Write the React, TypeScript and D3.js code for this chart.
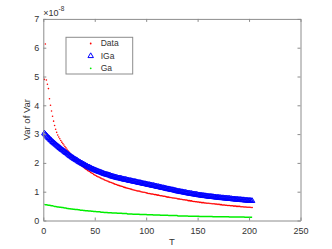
import React, { useEffect, useRef } from 'react'
import * as d3 from 'd3'

// Var of Var values (x 1e-8), one value per time step T = 1, 2, 3, ...
const dataVals = [
  4.90, 6.13, 4.88, 4.73, 4.58,
  4.23, 4.00, 3.80, 3.62, 3.45, 3.30, 3.17, 3.06, 2.97, 2.90, 2.84, 2.78, 2.72, 2.67, 2.62,
  2.57, 2.52, 2.47, 2.42, 2.38, 2.33, 2.28, 2.23, 2.18, 2.14,
  2.10, 2.07, 2.03, 2.00, 1.97, 1.94, 1.91, 1.88, 1.85, 1.82,
  1.79, 1.77, 1.74, 1.72, 1.70, 1.67, 1.65, 1.63, 1.60, 1.58,
  1.56, 1.54, 1.52, 1.51, 1.49, 1.47, 1.45, 1.44, 1.42, 1.40,
  1.39, 1.37, 1.36, 1.34, 1.33, 1.32, 1.30, 1.29, 1.27, 1.26,
  1.25, 1.23, 1.22, 1.21, 1.20, 1.19, 1.18, 1.16, 1.15, 1.14,
  1.13, 1.12, 1.11, 1.10, 1.09, 1.08, 1.07, 1.06, 1.05, 1.04,
  1.03, 1.02, 1.02, 1.01, 1.00, 0.99, 0.98, 0.98, 0.97, 0.96,
  0.95, 0.94, 0.94, 0.93, 0.92, 0.92, 0.91, 0.90, 0.90, 0.89,
  0.88, 0.88, 0.87, 0.86, 0.86, 0.85, 0.84, 0.84, 0.83, 0.82,
  0.81, 0.81, 0.80, 0.80, 0.79, 0.78, 0.78, 0.77, 0.77, 0.76,
  0.75, 0.75, 0.74, 0.74, 0.73, 0.72, 0.72, 0.71, 0.71, 0.70,
  0.69, 0.69, 0.68, 0.68, 0.67, 0.66, 0.66, 0.65, 0.65, 0.64,
  0.64, 0.63, 0.63, 0.62, 0.62, 0.62, 0.61, 0.61, 0.60, 0.60,
  0.60, 0.59, 0.59, 0.58, 0.58, 0.58, 0.57, 0.57, 0.56, 0.56,
  0.56, 0.55, 0.55, 0.54, 0.54, 0.54, 0.53, 0.53, 0.52, 0.52,
  0.52, 0.51, 0.51, 0.51, 0.50, 0.50, 0.50, 0.49, 0.49, 0.49,
  0.49, 0.48, 0.48, 0.48, 0.47, 0.47, 0.47, 0.46, 0.46, 0.46, 0.46, 0.45, 0.45
]

const igaVals = [
  3.03, 2.99, 2.95, 2.91, 2.87, 2.84, 2.80, 2.77, 2.73, 2.70,
  2.67, 2.64, 2.61, 2.58, 2.55, 2.52, 2.49, 2.46, 2.44, 2.41,
  2.38, 2.35, 2.33, 2.30, 2.27, 2.24, 2.22, 2.19, 2.17, 2.14,
  2.12, 2.10, 2.08, 2.05, 2.03, 2.01, 1.99, 1.97, 1.95, 1.93,
  1.91, 1.89, 1.87, 1.85, 1.84, 1.82, 1.80, 1.78, 1.77, 1.75,
  1.74, 1.72, 1.71, 1.69, 1.68, 1.67, 1.65, 1.64, 1.62, 1.61,
  1.60, 1.59, 1.58, 1.57, 1.56, 1.54, 1.53, 1.52, 1.51, 1.50,
  1.49, 1.48, 1.47, 1.47, 1.46, 1.45, 1.44, 1.43, 1.42, 1.42,
  1.41, 1.40, 1.39, 1.38, 1.38, 1.37, 1.36, 1.35, 1.35, 1.34,
  1.33, 1.32, 1.31, 1.31, 1.30, 1.29, 1.28, 1.27, 1.27, 1.26,
  1.25, 1.24, 1.24, 1.23, 1.22, 1.21, 1.21, 1.20, 1.19, 1.18,
  1.17, 1.17, 1.16, 1.15, 1.14, 1.13, 1.13, 1.12, 1.11, 1.10,
  1.09, 1.09, 1.08, 1.07, 1.06, 1.06, 1.05, 1.04, 1.03, 1.02,
  1.01, 1.01, 1.00, 0.99, 0.99, 0.98, 0.97, 0.97, 0.96, 0.95,
  0.94, 0.94, 0.93, 0.93, 0.92, 0.91, 0.91, 0.90, 0.90, 0.89,
  0.88, 0.88, 0.87, 0.87, 0.86, 0.86, 0.85, 0.85, 0.84, 0.84,
  0.83, 0.83, 0.83, 0.82, 0.82, 0.81, 0.81, 0.80, 0.80, 0.80,
  0.79, 0.79, 0.78, 0.78, 0.78, 0.77, 0.77, 0.77, 0.76, 0.76,
  0.76, 0.75, 0.75, 0.74, 0.74, 0.74, 0.73, 0.73, 0.73, 0.72,
  0.72, 0.72, 0.71, 0.71, 0.71, 0.70, 0.70, 0.70, 0.69, 0.69, 0.69, 0.68, 0.68
]

const gaVals = [
  0.56, 0.55, 0.55, 0.54, 0.53, 0.53, 0.52, 0.51, 0.51, 0.50,
  0.49, 0.49, 0.48, 0.47, 0.47, 0.46, 0.46, 0.45, 0.45, 0.44,
  0.43, 0.43, 0.42, 0.42, 0.41, 0.41, 0.40, 0.40, 0.39, 0.39,
  0.38, 0.38, 0.38, 0.37, 0.37, 0.36, 0.36, 0.36, 0.35, 0.35,
  0.34, 0.34, 0.34, 0.33, 0.33, 0.33, 0.32, 0.32, 0.31, 0.31,
  0.31, 0.30, 0.30, 0.30, 0.30, 0.29, 0.29, 0.29, 0.28, 0.28,
  0.28, 0.28, 0.27, 0.27, 0.27, 0.27, 0.26, 0.26, 0.26, 0.26,
  0.26, 0.25, 0.25, 0.25, 0.25, 0.25, 0.24, 0.24, 0.24, 0.24,
  0.24, 0.23, 0.23, 0.23, 0.23, 0.23, 0.22, 0.22, 0.22, 0.22,
  0.22, 0.22, 0.22, 0.21, 0.21, 0.21, 0.21, 0.21, 0.21, 0.21,
  0.20, 0.20, 0.20, 0.20, 0.20, 0.20, 0.19, 0.19, 0.19, 0.19,
  0.19, 0.19, 0.19, 0.18, 0.18, 0.18, 0.18, 0.18, 0.18, 0.18,
  0.18, 0.17, 0.17, 0.17, 0.17, 0.17, 0.17, 0.17, 0.17, 0.17,
  0.16, 0.16, 0.16, 0.16, 0.16, 0.16, 0.16, 0.16, 0.16, 0.16,
  0.15, 0.15, 0.15, 0.15, 0.15, 0.15, 0.15, 0.15, 0.15, 0.15,
  0.15, 0.14, 0.14, 0.14, 0.14, 0.14, 0.14, 0.14, 0.14, 0.14,
  0.14, 0.14, 0.14, 0.14, 0.13, 0.13, 0.13, 0.13, 0.13, 0.13,
  0.13, 0.13, 0.13, 0.13, 0.13, 0.13, 0.13, 0.13, 0.13, 0.13,
  0.12, 0.12, 0.12, 0.12, 0.12, 0.12, 0.12, 0.12, 0.12, 0.12,
  0.12, 0.12, 0.12, 0.12, 0.12, 0.11, 0.11, 0.11, 0.11, 0.11, 0.11, 0.11, 0.11
]

const xTicks = [0, 50, 100, 150, 200, 250]
const yTicks = [0, 1, 2, 3, 4, 5, 6, 7]
const legendNames = ['Data', 'IGa', 'Ga']

const W = 332, H = 249
const box = { left: 43.3, right: 300.5, top: 18.9, bottom: 220.5 }
const font = 'Liberation Sans, Arial, Helvetica, sans-serif'
const axisGray = '#8c8c8c'
const textGray = '#333333'

export default function App() {
  const ref = useRef<SVGSVGElement>(null)

  useEffect(() => {
    document.body.style.margin = '0'
    const svg = d3.select(ref.current)
    svg.selectAll('*').remove()

    const x = d3.scaleLinear().domain([0, 250]).range([box.left, box.right])
    const y = d3.scaleLinear().domain([0, 7]).range([box.bottom, box.top])
    const T = d3.range(1, dataVals.length + 1)

    svg.append('rect').attr('width', W).attr('height', H).attr('fill', '#fff')

    // Data: red dots
    svg.append('g')
      .selectAll('circle')
      .data(dataVals)
      .enter()
      .append('circle')
      .attr('cx', (d, i) => x(T[i]))
      .attr('cy', d => y(d))
      .attr('r', 0.8)
      .attr('fill', '#ff0000')

    // IGa: blue open triangles
    const tri = d3.symbol().type(d3.symbolTriangle).size(13)
    svg.append('g')
      .selectAll('path')
      .data(igaVals)
      .enter()
      .append('path')
      .attr('d', tri)
      .attr('transform', (d, i) => `translate(${x(T[i])},${y(d)})`)
      .attr('fill', 'none')
      .attr('stroke', '#0000ff')
      .attr('stroke-width', 1)

    // Ga: green
    const line = d3.line<number>().x((d, i) => x(T[i])).y(d => y(d))
    svg.append('path')
      .datum(gaVals)
      .attr('d', line)
      .attr('fill', 'none')
      .attr('stroke', '#00ee00')
      .attr('stroke-width', 1.5)

    // axes, MATLAB style box with inward ticks
    const styleAxis = (g: any) => {
      g.select('.domain').attr('stroke', axisGray).attr('stroke-width', 1)
      g.selectAll('line').attr('stroke', axisGray)
      g.selectAll('text').attr('fill', textGray).style('font-family', font).style('font-size', '9px')
    }
    svg.append('g')
      .attr('transform', `translate(0,${box.bottom})`)
      .call(d3.axisBottom(x).tickValues(xTicks).tickSize(-3).tickSizeOuter(0).tickPadding(7).tickFormat(d3.format('d')))
      .call(styleAxis)
    svg.append('g')
      .attr('transform', `translate(0,${box.top})`)
      .call(d3.axisTop(x).tickValues(xTicks).tickSize(-3).tickSizeOuter(0).tickFormat(() => ''))
      .call(styleAxis)
    svg.append('g')
      .attr('transform', `translate(${box.left},0)`)
      .call(d3.axisLeft(y).tickValues(yTicks).tickSize(-3).tickSizeOuter(0).tickPadding(4).tickFormat(d3.format('d')))
      .call(styleAxis)
    svg.append('g')
      .attr('transform', `translate(${box.right},0)`)
      .call(d3.axisRight(y).tickValues(yTicks).tickSize(-3).tickSizeOuter(0).tickFormat(() => ''))
      .call(styleAxis)

    // exponent label
    const ex = svg.append('text')
      .attr('x', box.left)
      .attr('y', 16)
      .attr('fill', textGray)
      .style('font-family', font)
      .style('font-size', '9px')
    ex.append('tspan').text('×10')
    ex.append('tspan').attr('dy', -5).style('font-size', '6.5px').text('-8')

    // axis labels
    svg.append('text')
      .attr('x', (box.left + box.right) / 2)
      .attr('y', 245)
      .attr('text-anchor', 'middle')
      .attr('fill', textGray)
      .style('font-family', font)
      .style('font-size', '9.5px')
      .text('T')
    svg.append('text')
      .attr('transform', `translate(30,${(box.top + box.bottom) / 2}) rotate(-90)`)
      .attr('text-anchor', 'middle')
      .attr('fill', textGray)
      .style('font-family', font)
      .style('font-size', '9.5px')
      .text('Var of Var')

    // legend
    const lg = svg.append('g')
    lg.append('rect')
      .attr('x', 66).attr('y', 37.3).attr('width', 66.7).attr('height', 36.7)
      .attr('fill', '#fff').attr('stroke', axisGray).attr('stroke-width', 1)
    const rows = [43.5, 56, 68.3]
    legendNames.forEach((name, i) => {
      const cy = rows[i]
      if (i === 0) {
        lg.append('circle').attr('cx', 90.7).attr('cy', cy).attr('r', 0.9).attr('fill', '#ff0000')
      } else if (i === 1) {
        lg.append('path').attr('d', tri).attr('transform', `translate(90.7,${cy})`)
          .attr('fill', 'none').attr('stroke', '#0000ff').attr('stroke-width', 1)
      } else {
        lg.append('circle').attr('cx', 90.7).attr('cy', cy).attr('r', 0.9).attr('fill', '#00ee00')
      }
      lg.append('text')
        .attr('x', 100.7).attr('y', cy).attr('dy', '0.35em')
        .attr('fill', textGray)
        .style('font-family', font)
        .style('font-size', '8.5px')
        .text(name)
    })
  }, [])

  return <svg ref={ref} width={W} height={H} style={{ display: 'block' }} />
}
